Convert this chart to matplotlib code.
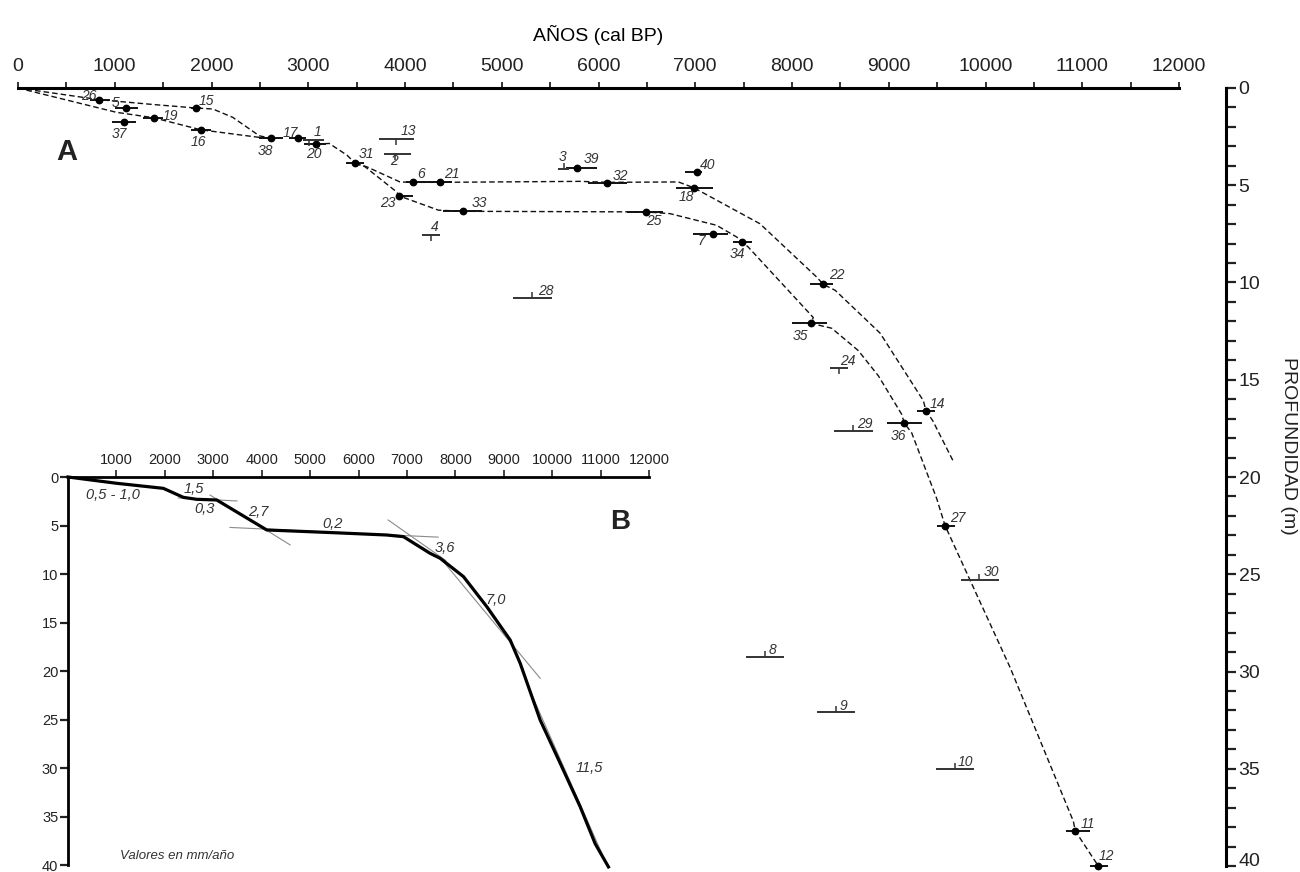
import numpy as np
import matplotlib
matplotlib.use("Agg")
from matplotlib import pyplot as plt
from matplotlib.ticker import MultipleLocator, FuncFormatter

plt.rcParams.update({
    "font.family": ["Liberation Sans", "DejaVu Sans"],
    "text.color": "#222222",
    "xtick.color": "#222222",
    "ytick.color": "#222222",
})

# --- dated samples with a dot (age cal BP, depth m, age range) ---
dot_ids = [26, 5, 15, 19, 37, 16, 38, 17, 20, 31, 6, 21, 23, 33, 39, 32,
           40, 18, 25, 7, 34, 22, 35, 14, 36, 27, 11, 12]
dot_age = [838, 1120, 1842, 1402, 1096, 1890, 2615, 2890, 3079, 3485, 4086,
           4362, 3941, 4603, 5774, 6091, 7021, 6990, 6488, 7180, 7487, 8324,
           8197, 9385, 9161, 9582, 10928, 11166]
dot_depth = [0.60, 1.05, 1.03, 1.53, 1.77, 2.15, 2.58, 2.59, 2.89, 3.87, 4.85,
             4.85, 5.55, 6.34, 4.12, 4.91, 4.31, 5.14, 6.37, 7.53, 7.92, 10.1,
             12.1, 16.6, 17.23, 22.5, 38.2, 40.0]
dot_lo = [745, 1000, 1790, 1292, 976, 1790, 2495, 2804, 2959, 3388, 4011,
          4293, 3907, 4396, 5660, 5895, 6894, 6801, 6291, 6973, 7394, 8186,
          7997, 9289, 8986, 9495, 10829, 11078]
dot_hi = [950, 1240, 1895, 1498, 1223, 1997, 2735, 2976, 3182, 3577, 4293,
          4482, 4086, 4792, 5981, 6291, 7066, 7187, 6670, 7342, 7584, 8427,
          8359, 9478, 9341, 9681, 11078, 11265]

# --- rejected samples (no dot, small tick) ---
tick_ids = [1, 13, 2, 4, 28, 3, 24, 29, 30, 8, 9, 10]
tick_age = [3010, 3904, 3900, 4265, 5316, 5643, 8489, 8634, 9936, 7720, 8453, 9680]
tick_depth = [2.68, 2.63, 3.37, 7.58, 10.79, 4.14, 14.4, 17.63, 25.27, 29.26,
              32.1, 35.0]
tick_lo = [2942, 3732, 3783, 4172, 5120, 5585, 8392, 8438, 9742, 7522, 8255, 9487]
tick_hi = [3165, 4093, 4058, 4362, 5516, 5700, 8582, 8834, 10138, 7918, 8651, 9883]
tick_up = [False, False, False, False, True, True, False, True, True, True,
           True, True]

# label offsets in pixels (dx right, dy down)
label_off = {26: (-10, -4), 5: (-11, -5), 15: (10, -7), 19: (17, -2),
             37: (-5, 12), 16: (-2, 12), 38: (-6, 13), 17: (-7, -5),
             1: (8, -8), 20: (-2, 10), 31: (11, -9), 13: (13, -8), 2: (-1, 7),
             6: (8, -8), 21: (12, -8), 23: (-11, 7), 33: (16, -8), 4: (4, -8),
             28: (14, -7), 3: (-1, -12), 39: (15, -9), 32: (13, -7),
             40: (10, -7), 18: (-8, 9), 25: (8, 9), 7: (-11, 7), 34: (-5, 12),
             22: (13, -9), 35: (-11, 13), 24: (9, -7), 14: (11, -7),
             36: (-6, 13), 29: (11, -7), 27: (13, -8), 30: (12, -8),
             8: (8, -7), 9: (8, -6), 10: (11, -7), 11: (13, -7), 12: (8, -10)}

# --- dashed age-depth curves (age, depth) ---
curve_u_age = [0, 838, 1400, 1842, 2014, 2220, 2495, 2615]
curve_u_dep = [0, 0.60, 0.85, 1.03, 1.08, 1.51, 2.46, 2.58]
curve_l_age = [0, 1017, 1402, 1890, 2495, 2615]
curve_l_dep = [0, 1.25, 1.53, 2.15, 2.54, 2.58]
curve_m_age = [3079, 3216, 3400, 3485]
curve_m_dep = [2.89, 2.85, 3.45, 3.87]
branch_u_age = [3485, 3604, 3948, 4086, 4362, 5809, 6091, 6826, 6990, 7669,
                8255, 8324, 8446, 8910, 9358, 9385, 9454, 9674]
branch_u_dep = [3.87, 4.05, 4.83, 4.85, 4.85, 4.80, 4.85, 4.83, 5.14, 6.98,
                9.72, 10.1, 10.4, 12.6, 16.08, 16.6, 17.1, 19.26]
branch_l_age = [3485, 3587, 3913, 3941, 4345, 4603, 6488, 6739, 7221, 7428,
                7487, 7548, 8220, 8197, 8410, 8685, 8893, 9133, 9161, 9237,
                9495, 9582, 10255, 10908, 10928, 11166]
branch_l_dep = [3.87, 4.05, 5.34, 5.55, 6.28, 6.34, 6.37, 6.46, 7.06, 7.66,
                7.92, 8.18, 11.8, 12.1, 12.35, 13.5, 14.8, 16.77, 17.23, 17.73,
                21.1, 22.5, 29.8, 37.7, 38.2, 40.0]

# --- inset B: synthetic curve and rate segments ---
b_age = [0, 1006, 1970, 2383, 2658, 3072, 4105, 5482, 6584, 6928, 7479, 7686,
         8168, 8650, 9132, 9339, 9752, 10165, 10579, 10888, 11163]
b_dep = [0, 0.65, 1.17, 2.1, 2.3, 2.37, 5.46, 5.74, 5.98, 6.15, 7.87, 8.38,
         10.27, 13.37, 16.8, 19.2, 25.05, 29.5, 34.0, 37.8, 40.2]
seg_age = [(2280, 3490), (2934, 4587), (3347, 7645), (6612, 7800),
           (7686, 9752), (9477, 11026)]
seg_dep = [(2.16, 2.47), (1.86, 7.0), (5.2, 6.2), (4.43, 8.6),
           (8.32, 20.75), (21.3, 38.8)]
rate_text = ["0,5 - 1,0", "1,5", "0,3", "2,7", "0,2", "3,6", "7,0", "11,5"]
rate_age = [925, 2590, 2830, 3930, 5470, 7789, 8843, 10765]
rate_dep = [1.86, 1.27, 3.3, 3.6, 4.85, 7.3, 12.7, 29.97]

W, H = 1300, 872
fig = plt.figure(figsize=(W / 100, H / 100), dpi=100)


def px_axes(x0, y0, x1, y1):
    return fig.add_axes([x0 / W, 1 - y1 / H, (x1 - x0) / W, (y1 - y0) / H])


# ---------------- main panel A ----------------
ax = px_axes(18, 88, 1179, 866)
ax.set_facecolor("none")
ax.set_xlim(0, 12000)
ax.set_ylim(40, 0)
for s in ["bottom", "left"]:
    ax.spines[s].set_visible(False)
spine_x = (1226 - 18) / 1161
ax.spines["top"].set_linewidth(2.2)
ax.spines["right"].set_linewidth(2.2)
ax.spines["right"].set_position(("axes", spine_x))
ax.xaxis.tick_top()
ax.yaxis.tick_right()
ax.xaxis.set_major_locator(MultipleLocator(1000))
ax.xaxis.set_minor_locator(MultipleLocator(500))
ax.yaxis.set_major_locator(MultipleLocator(5))
ax.yaxis.set_minor_locator(MultipleLocator(1))
# the bottom label is drawn by hand a little higher so it stays in the picture
ax.yaxis.set_major_formatter(FuncFormatter(lambda v, p: "" if v >= 40 else f"{v:.0f}"))
ax.tick_params(axis="x", which="both", direction="out", length=4.5, width=1.3,
               labelsize=14, pad=5)
ax.tick_params(axis="y", which="both", direction="out", length=7, width=1.6,
               labelsize=14, pad=2)
ax.annotate("40", (spine_x, 40), xycoords=ax.get_yaxis_transform(),
            xytext=(12.5, 5), textcoords="offset pixels", ha="left",
            va="center", fontsize=14, color="#222222", annotation_clip=False)
ax.set_xlabel("AÑOS (cal BP)", fontsize=14, labelpad=12)
ax.xaxis.set_label_position("top")
fig.text(1288 / W, 1 - 446 / H, "PROFUNDIDAD (m)", rotation=-90, fontsize=14,
         ha="center", va="center")

dash = (0, (4, 2.2))
for xa, ya in [(curve_u_age, curve_u_dep), (curve_l_age, curve_l_dep),
               (curve_m_age, curve_m_dep), (branch_u_age, branch_u_dep),
               (branch_l_age, branch_l_dep)]:
    ax.plot(xa, ya, color="#111111", lw=1.0, linestyle=dash, clip_on=False)

ax.hlines(dot_depth, dot_lo, dot_hi, color="#111111", lw=1.4, clip_on=False)
ax.plot(dot_age, dot_depth, "o", color="black", ms=4.6, clip_on=False)
ax.hlines(tick_depth, tick_lo, tick_hi, color="#333333", lw=1.4, clip_on=False)
for a, d, up in zip(tick_age, tick_depth, tick_up):
    ax.plot(a, d, marker=2 if up else 3, color="#333333", ms=4, mew=1.1)

for ids, ages, deps in [(dot_ids, dot_age, dot_depth),
                        (tick_ids, tick_age, tick_depth)]:
    for i, a, d in zip(ids, ages, deps):
        dx, dy = label_off[i]
        ax.annotate(str(i), (a, d), xytext=(dx, -dy), textcoords="offset pixels",
                    ha="center", va="center", fontsize=10, style="italic",
                    color="#333333", annotation_clip=False)

fig.text(67 / W, 1 - 152 / H, "A", fontsize=21, fontweight="bold",
         ha="center", va="center")

# ---------------- inset panel B ----------------
bx = px_axes(68, 477, 649, 865)
bx.set_facecolor("none")
bx.set_xlim(0, 12000)
bx.set_ylim(40, 0)
for s in ["bottom", "right"]:
    bx.spines[s].set_visible(False)
bx.spines["top"].set_linewidth(2)
bx.spines["left"].set_linewidth(2)
bx.xaxis.tick_top()
bx.set_xticks(np.arange(1000, 12001, 1000))
bx.set_yticks(np.arange(0, 41, 5))
bx.tick_params(axis="x", direction="out", length=5, width=1.2, labelsize=10.5,
               pad=2)
bx.tick_params(axis="y", direction="out", length=6, width=1.6, labelsize=10.5,
               pad=1)

for (a0, a1), (d0, d1) in zip(seg_age, seg_dep):
    bx.plot([a0, a1], [d0, d1], color="#8a8a8a", lw=0.8)
bx.plot(b_age, b_dep, color="black", lw=2.3, clip_on=False,
        solid_joinstyle="round")
for t, a, d in zip(rate_text, rate_age, rate_dep):
    bx.text(a, d, t, fontsize=10.5, style="italic", ha="center", va="center",
            color="#333333")
bx.text(2250, 39.1, "Valores en mm/año", fontsize=9.5, style="italic",
        ha="center", va="center", color="#333333")
fig.text(620 / W, 1 - 522 / H, "B", fontsize=20, fontweight="bold",
         ha="center", va="center")

fig.savefig("out.png", dpi=100)
